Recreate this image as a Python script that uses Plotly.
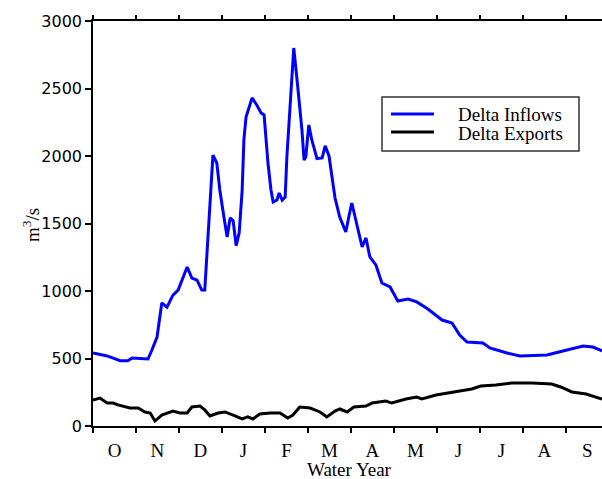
import plotly.graph_objects as go

# ---------------- data ----------------
month_labels = ["O", "N", "D", "J", "F", "M", "A", "M", "J", "J", "A", "S"]
series_names = ["Delta Inflows", "Delta Exports"]
y_tick_values = [0, 500, 1000, 1500, 2000, 2500, 3000]

# time in months since 1 October (water year)
inflow_t = [0.00, 0.33, 0.63, 0.81, 0.91, 1.28, 1.37, 1.49, 1.60, 1.72, 1.86, 1.98,
            2.19, 2.30, 2.42, 2.53, 2.60, 2.67, 2.74, 2.79, 2.88, 2.95, 3.02, 3.12,
            3.19, 3.26, 3.33, 3.40, 3.47, 3.51, 3.56, 3.63, 3.70, 3.81, 3.91, 3.98,
            4.02, 4.07, 4.14, 4.19, 4.28, 4.33, 4.40, 4.47, 4.51, 4.58, 4.63, 4.67,
            4.74, 4.79, 4.86, 4.91, 4.95, 5.02, 5.09, 5.21, 5.33, 5.40, 5.49, 5.58,
            5.63, 5.74, 5.88, 5.95, 6.02, 6.14, 6.26, 6.35, 6.44, 6.58, 6.72, 6.91,
            7.09, 7.33, 7.53, 7.79, 8.12, 8.35, 8.53, 8.70, 9.07, 9.23, 9.63, 9.93,
            10.56, 10.93, 11.40, 11.63, 11.84]
inflow_v = [541, 519, 484, 484, 504, 496, 563, 659, 911, 881, 970, 1007,
            1178, 1096, 1081, 1007, 1007, 1378, 1822, 2007, 1948, 1748, 1600, 1400,
            1541, 1520, 1335, 1430, 1748, 2119, 2289, 2363, 2430, 2378, 2319, 2304,
            2141, 1948, 1748, 1659, 1674, 1726, 1674, 1696, 1993, 2319, 2615, 2800,
            2585, 2437, 2193, 1970, 1993, 2230, 2119, 1980, 1985, 2075, 2000, 1800,
            1689, 1548, 1437, 1548, 1652, 1489, 1326, 1393, 1252, 1193, 1059, 1030,
            926, 941, 919, 867, 785, 763, 674, 622, 615, 578, 541, 519,
            526, 556, 593, 585, 556]

export_t = [0.00, 0.16, 0.33, 0.47, 0.58, 0.86, 1.05, 1.21, 1.33, 1.44, 1.60, 1.86,
            2.02, 2.19, 2.30, 2.49, 2.60, 2.72, 2.91, 3.07, 3.26, 3.47, 3.60, 3.72,
            3.88, 4.12, 4.35, 4.53, 4.65, 4.81, 5.05, 5.28, 5.44, 5.63, 5.74, 5.91,
            6.07, 6.35, 6.49, 6.81, 6.95, 7.28, 7.53, 7.65, 7.98, 8.44, 8.81, 9.02,
            9.37, 9.74, 10.21, 10.67, 10.88, 11.14, 11.47, 11.84]
export_v = [193, 207, 170, 170, 156, 133, 133, 104, 96, 37, 81, 111,
            96, 96, 141, 148, 119, 74, 96, 104, 81, 52, 67, 52,
            89, 96, 96, 59, 81, 141, 133, 104, 67, 111, 126, 104,
            141, 148, 170, 185, 170, 200, 215, 200, 230, 252, 274, 296,
            304, 319, 319, 311, 289, 252, 237, 200]

# ---------------- figure ----------------
W, H = 602, 479
L, R, T, B = 93, 0, 21, 53
pw, ph = W - L - R, H - T - B
X_MAX = 11.84

def px_x(x):
    return (x - L) / pw

def px_y(y):
    return (H - B - y) / ph

colors = ["#0000ff", "#000000"]
serif = "Liberation Serif, Times New Roman, serif"

fig = go.Figure()
fig.add_trace(go.Scatter(x=inflow_t, y=inflow_v, mode="lines", name=series_names[0],
                         line=dict(color=colors[0], width=3), showlegend=False))
fig.add_trace(go.Scatter(x=export_t, y=export_v, mode="lines", name=series_names[1],
                         line=dict(color=colors[1], width=3), showlegend=False,
                         xaxis="x2"))

# legend drawn as a framed box
shapes = [dict(type="rect", xref="paper", yref="paper",
               x0=px_x(382), x1=px_x(579), y0=px_y(151), y1=px_y(97),
               line=dict(color="#333333", width=1.5), fillcolor="white", layer="above")]
annotations = []
for i, (name, col) in enumerate(zip(series_names, colors)):
    yy = 114 + 18 * i
    shapes.append(dict(type="line", xref="paper", yref="paper",
                       x0=px_x(391), x1=px_x(434), y0=px_y(yy), y1=px_y(yy),
                       line=dict(color=col, width=3), layer="above"))
    annotations.append(dict(text=name, xref="paper", yref="paper",
                            x=px_x(456), y=px_y(yy + 1), xanchor="left", yanchor="middle",
                            showarrow=False, font=dict(family=serif, size=19, color="black")))

# axis titles
annotations.append(dict(text="Water Year", xref="paper", yref="paper",
                        x=px_x(349), y=px_y(469), xanchor="center", yanchor="middle",
                        showarrow=False, font=dict(family=serif, size=19, color="black")))
annotations.append(dict(text="m<sup>3</sup>/s", xref="paper", yref="paper",
                        x=px_x(31), y=px_y(225), xanchor="center", yanchor="middle",
                        textangle=-90, showarrow=False,
                        font=dict(family=serif, size=19, color="black")))

fig.update_layout(
    width=W, height=H,
    margin=dict(l=L, r=R, t=T, b=B),
    paper_bgcolor="white", plot_bgcolor="white",
    shapes=shapes, annotations=annotations,
    showlegend=False,
    xaxis=dict(
        range=[0, X_MAX],
        tickmode="array",
        tickvals=[i + 0.5 for i in range(12)],
        ticktext=month_labels,
        ticks="", ticklen=0,
        showgrid=False, zeroline=False, automargin=False,
        showline=True, linecolor="black", linewidth=1.5, mirror=True,
        minor=dict(tickmode="array", tickvals=list(range(13)), ticks="outside",
                   ticklen=5, tickwidth=1.5, tickcolor="black", showgrid=False),
        tickfont=dict(family=serif, size=19, color="black"),
        ticklabelstandoff=6,
    ),
    xaxis2=dict(overlaying="x", side="top", anchor="y", range=[0, X_MAX],
                tickmode="array", tickvals=list(range(13)), ticks="outside",
                ticklen=5, tickwidth=1.5, tickcolor="black",
                showticklabels=False, showgrid=False, zeroline=False, showline=False,
                automargin=False),
    yaxis=dict(
        range=[0, 3000],
        tickmode="array", tickvals=y_tick_values,
        ticks="outside", ticklen=6, tickwidth=1.5, tickcolor="black",
        showgrid=False, zeroline=False, automargin=False,
        showline=True, linecolor="black", linewidth=1.5,
        tickfont=dict(family="DejaVu Sans, Verdana, sans-serif", size=16, color="black"),
    ),
)

fig.write_html("out.html",
               config={"displayModeBar": False},
               post_script="document.body.style.margin='0';document.body.style.overflow='hidden';")
